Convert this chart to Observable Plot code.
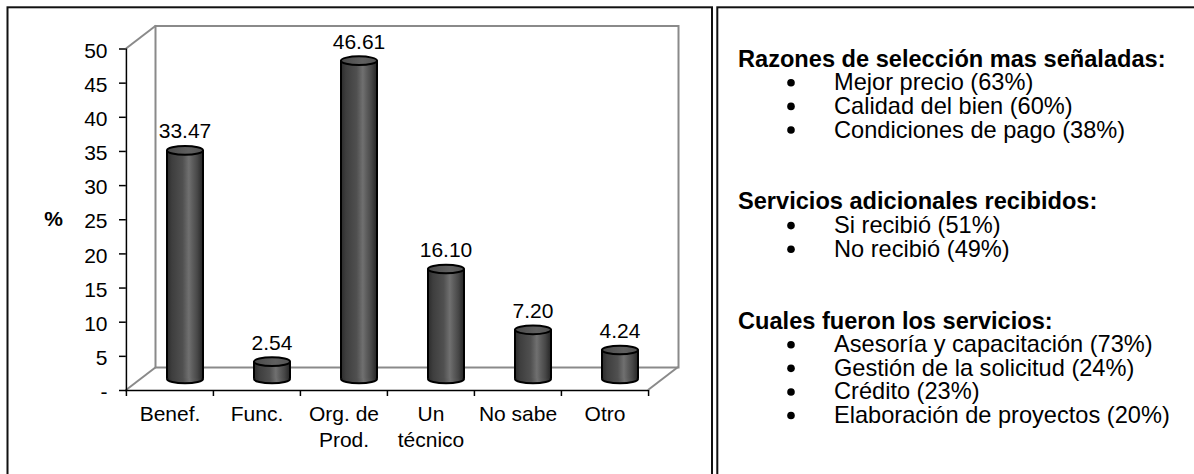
<!DOCTYPE html>
<html>
<head>
<meta charset="utf-8">
<script src="https://cdn.jsdelivr.net/npm/d3@7"></script>
<script src="https://cdn.jsdelivr.net/npm/@observablehq/plot@0.6"></script>
<style>
  html, body { margin: 0; padding: 0; overflow: hidden; background: #fff; }
  #wrap { position: relative; width: 1194px; height: 474px; }
  #chart { position: absolute; left: 0; top: 0; }
  #overlay { position: absolute; left: 0; top: 0; }
</style>
</head>
<body>
<svg width="0" height="0" style="position:absolute">
  <defs>
    <linearGradient id="cylBody" x1="0" y1="0" x2="1" y2="0">
      <stop offset="0" stop-color="#2a2a2a"/>
      <stop offset="0.15" stop-color="#3e3e3e"/>
      <stop offset="0.45" stop-color="#505050"/>
      <stop offset="0.62" stop-color="#707070"/>
      <stop offset="0.72" stop-color="#5e5e5e"/>
      <stop offset="0.86" stop-color="#474747"/>
      <stop offset="1" stop-color="#282828"/>
    </linearGradient>
    <linearGradient id="cylTop" x1="0" y1="0" x2="1" y2="0">
      <stop offset="0" stop-color="#4a4a4a"/>
      <stop offset="0.6" stop-color="#606060"/>
      <stop offset="1" stop-color="#525252"/>
    </linearGradient>
  </defs>
</svg>
<div id="wrap">
  <div id="chart"></div>
  <svg id="overlay" width="1194" height="474"></svg>
</div>
<script>
// ---- data ----
const categories = ["Benef.", "Func.", "Org. de\nProd.", "Un\ntécnico", "No sabe", "Otro"];
const values = [33.47, 2.54, 46.61, 16.10, 7.20, 4.24];
const yTicks = [0, 5, 10, 15, 20, 25, 30, 35, 40, 45, 50];
const yLabel = "%";

const sectionTitles = [
  "Razones de selección mas señaladas:",
  "Servicios adicionales recibidos:",
  "Cuales fueron los servicios:"
];
const sectionItems = [
  ["Mejor precio (63%)", "Calidad del bien (60%)", "Condiciones de pago (38%)"],
  ["Si recibió (51%)", "No recibió (49%)"],
  ["Asesoría y capacitación (73%)", "Gestión de la solicitud (24%)", "Crédito (23%)", "Elaboración de proyectos (20%)"]
];

const data = categories.map((c, i) => ({category: c, value: values[i]}));

// ---- layout ----
const W = 712, H = 474;
const mL = 125, mR = 64, mT = 48.5, mB = 84;
const bw = (W - mL - mR) / categories.length;
const depthX = 30, depthY = -23;
const cylR = 18, cylDX = depthX / 2, cylDY = depthY / 2;
const FONT = "'Liberation Sans', Arial, Helvetica, sans-serif";

const ellipseSymbol = {
  draw(ctx, size) {
    const rx = Math.sqrt(size / Math.PI), ry = rx * 0.24, k = 0.5523;
    ctx.moveTo(rx, 0);
    ctx.bezierCurveTo(rx, ry * k, rx * k, ry, 0, ry);
    ctx.bezierCurveTo(-rx * k, ry, -rx, ry * k, -rx, 0);
    ctx.bezierCurveTo(-rx, -ry * k, -rx * k, -ry, 0, -ry);
    ctx.bezierCurveTo(rx * k, -ry, rx, -ry * k, rx, 0);
    ctx.closePath();
  }
};

// depth edges of the 3D box, positioned through the plot's scales
const depthEdges = (index, scales) => {
  const {x, y} = scales;
  const x0 = x(categories[0]);
  const x1 = x(categories[categories.length - 1]) + x.bandwidth();
  const yTop = y(yTicks[yTicks.length - 1]), yBot = y(0);
  const g = d3.create("svg:g").attr("stroke", "#8a8a8a").attr("stroke-width", 2);
  for (const [px, py] of [[x0, yTop], [x0, yBot], [x1, yBot]]) {
    g.append("line").attr("x1", px).attr("y1", py).attr("x2", px + depthX).attr("y2", py + depthY);
  }
  return g.node();
};

const chart = Plot.plot({
  width: W, height: H,
  marginLeft: mL, marginRight: mR, marginTop: mT, marginBottom: mB,
  style: {fontFamily: FONT, fontSize: "21px", color: "#000", background: "transparent"},
  x: {domain: categories, padding: 0, axis: null},
  y: {domain: [0, yTicks[yTicks.length - 1]], label: null, axis: null},
  marks: [
    Plot.frame({stroke: "#8a8a8a", strokeWidth: 2, dx: depthX, dy: depthY}),
    depthEdges,
    // axes lines
    Plot.ruleY([0], {stroke: "#000", strokeWidth: 1.5}),
    Plot.ruleX([categories[0]], {x: d => d, dx: -bw / 2, stroke: "#000", strokeWidth: 1.5}),
    Plot.ruleX(categories, {x: d => d, y1: 0, y2: 0, insetBottom: -6, dx: -bw / 2, stroke: "#000", strokeWidth: 1.5}),
    Plot.ruleX([categories[categories.length - 1]], {x: d => d, y1: 0, y2: 0, insetBottom: -6, dx: bw / 2, stroke: "#000", strokeWidth: 1.5}),
    // y ticks and tick labels
    Plot.tickY(yTicks, {y: d => d, frameAnchor: "left", x: () => categories[0], dx: -bw / 2 - 3.5, insetLeft: bw / 2 - 3.5, insetRight: bw / 2 - 3.5, stroke: "#000", strokeWidth: 1.5}),
    Plot.text(yTicks, {y: d => d, text: d => d === 0 ? "-" : String(d), frameAnchor: "left", dx: -18, dy: 2, textAnchor: "end", fontSize: 21}),
    Plot.text([yLabel], {text: d => d, frameAnchor: "left", dx: -72, fontWeight: "bold", textAnchor: "middle", fontSize: 21}),
    Plot.text(categories, {x: d => d, text: d => d, frameAnchor: "bottom", lineAnchor: "top", dy: 12.2, lineHeight: 1.24, fontSize: 21}),
    // cylinders
    Plot.dot(data, {x: "category", y: 0, symbol: ellipseSymbol, r: cylR, fill: "url(#cylBody)", stroke: "#000", strokeWidth: 2, dx: cylDX, dy: cylDY}),
    Plot.barY(data, {x: "category", y: "value", fill: "url(#cylBody)", insetLeft: bw / 2 - cylR, insetRight: bw / 2 - cylR, dx: cylDX, dy: cylDY}),
    Plot.ruleX(data, {x: "category", y1: 0, y2: "value", dx: cylDX - cylR, dy: cylDY, stroke: "#000", strokeWidth: 2}),
    Plot.ruleX(data, {x: "category", y1: 0, y2: "value", dx: cylDX + cylR, dy: cylDY, stroke: "#000", strokeWidth: 2}),
    Plot.dot(data, {x: "category", y: "value", symbol: ellipseSymbol, r: cylR, fill: "url(#cylTop)", stroke: "#000", strokeWidth: 2, dx: cylDX, dy: cylDY}),
    Plot.text(data, {x: "category", y: "value", text: d => d.value.toFixed(2), dx: cylDX, dy: cylDY - 12 - 6.7, fontSize: 21})
  ]
});
document.getElementById("chart").appendChild(chart);

// ---- borders and side panel ----
const ov = d3.select("#overlay");
ov.append("rect").attr("x", 7.5).attr("y", 7.3).attr("width", 704.5).attr("height", 500)
  .attr("fill", "none").attr("stroke", "#111").attr("stroke-width", 2);
ov.append("rect").attr("x", 717.3).attr("y", 7.3).attr("width", 600).attr("height", 500)
  .attr("fill", "none").attr("stroke", "#111").attr("stroke-width", 2);

const panelX = 738, bulletX = 791, itemX = 834, firstBaseline = 66.7, lineStep = 23.6;
const titleSize = 23.6, itemSize = 23.6;
let line = 0;
const addText = (str, x, y, bold) => {
  ov.append("text")
    .attr("x", x).attr("y", y)
    .attr("font-family", FONT).attr("font-size", bold ? titleSize : itemSize)
    .attr("font-weight", bold ? "bold" : "normal").attr("fill", "#000")
    .text(str);
};
sectionTitles.forEach((title, s) => {
  addText(title, panelX, firstBaseline + line * lineStep, true);
  line += 1;
  sectionItems[s].forEach(item => {
    const by = firstBaseline + line * lineStep;
    ov.append("circle").attr("cx", bulletX).attr("cy", by - 7.5).attr("r", 3.8).attr("fill", "#000");
    addText(item, itemX, by, false);
    line += 1;
  });
  line += 2.05;
});
</script>
</body>
</html>
